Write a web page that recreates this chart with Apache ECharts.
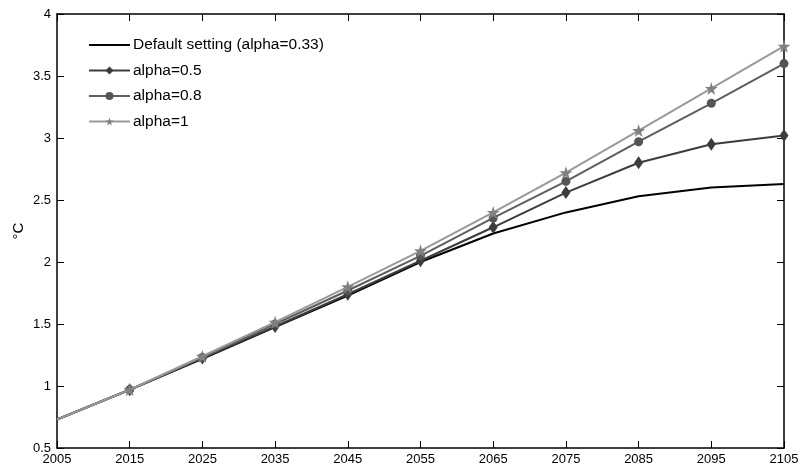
<!DOCTYPE html>
<html>
<head>
<meta charset="utf-8">
<script src="https://cdn.jsdelivr.net/npm/echarts@6/dist/echarts.min.js"></script>
<style>
  html, body { margin: 0; padding: 0; background: #fff; }
  #chart { width: 799px; height: 468px; }
</style>
</head>
<body>
<div id="chart"></div>
<script>
// Projected warming (°C) under different alpha settings
const years = ['2005', '2015', '2025', '2035', '2045', '2055', '2065', '2075', '2085', '2095', '2105'];
const defaultSetting = [0.73, 0.97, 1.22, 1.475, 1.73, 2.00, 2.23, 2.40, 2.53, 2.60, 2.63];
const alpha05 = [0.73, 0.97, 1.225, 1.48, 1.74, 2.01, 2.28, 2.56, 2.80, 2.95, 3.02];
const alpha08 = [0.73, 0.97, 1.23, 1.50, 1.77, 2.05, 2.355, 2.65, 2.97, 3.28, 3.60];
const alpha1 = [0.73, 0.97, 1.24, 1.515, 1.80, 2.09, 2.40, 2.72, 3.06, 3.40, 3.74];
const seriesNames = ['Default setting (alpha=0.33)', 'alpha=0.5', 'alpha=0.8', 'alpha=1'];

const starPath = 'path://M50,0 L61,35 L98,35 L68,57 L79,91 L50,70 L21,91 L32,57 L2,35 L39,35 Z';
const font = '"Liberation Sans", Arial, Helvetica, sans-serif';

// first point sits on the left frame and carries no marker
const withoutFirstMarker = arr => arr.map((v, i) => i === 0 ? { value: v, symbol: 'none' } : v);

const chart = echarts.init(document.getElementById('chart'));
chart.setOption({
  animation: false,
  textStyle: { fontFamily: font },
  grid: { left: 57, right: 15, top: 14, bottom: 20, show: false, containLabel: false, outerBoundsMode: 'none' },
  legend: {
    orient: 'vertical',
    left: 83,
    top: 32,
    itemWidth: 41,
    itemHeight: 10,
    itemGap: 9.5,
    textStyle: { fontFamily: font, fontSize: 15.5, color: '#000', padding: [0, 0, 0, -2] },
    data: [
      { name: seriesNames[0], itemStyle: { opacity: 0 } },
      seriesNames[1],
      seriesNames[2],
      seriesNames[3]
    ]
  },
  xAxis: [{
    type: 'category',
    data: years,
    boundaryGap: false,
    axisLine: { lineStyle: { color: '#000', width: 1.5 } },
    axisTick: { inside: true, length: 7, interval: 0, lineStyle: { color: '#000' } },
    axisLabel: { interval: 0, color: '#000', fontSize: 13, margin: 5, fontFamily: font },
    splitLine: { show: false }
  }, {
    type: 'category',
    data: years,
    position: 'top',
    boundaryGap: false,
    axisLine: { lineStyle: { color: '#000', width: 1.5 } },
    axisTick: { inside: true, length: 7, interval: 0, lineStyle: { color: '#000' } },
    axisLabel: { show: false },
    splitLine: { show: false }
  }],
  yAxis: [{
    type: 'value',
    min: 0.5,
    max: 4,
    interval: 0.5,
    name: '°C',
    nameLocation: 'middle',
    nameGap: 31,
    nameMoveOverlap: false,
    nameRotate: 90,
    nameTextStyle: { color: '#000', fontSize: 15, fontFamily: font },
    axisLine: { show: true, lineStyle: { color: '#000', width: 1.5 } },
    axisTick: { show: true, inside: true, length: 7, lineStyle: { color: '#000' } },
    axisLabel: { color: '#000', fontSize: 13, margin: 6, fontFamily: font },
    splitLine: { show: false }
  }, {
    type: 'value',
    min: 0.5,
    max: 4,
    interval: 0.5,
    position: 'right',
    axisLine: { show: true, lineStyle: { color: '#000', width: 1.5 } },
    axisTick: { show: true, inside: true, length: 7, lineStyle: { color: '#000' } },
    axisLabel: { show: false },
    splitLine: { show: false }
  }],
  series: [{
    name: seriesNames[0],
    type: 'line',
    data: defaultSetting,
    symbol: 'none',
    lineStyle: { color: '#000', width: 2 },
    itemStyle: { color: '#000' },
    z: 2
  }, {
    name: seriesNames[1],
    type: 'line',
    data: withoutFirstMarker(alpha05),
    symbol: 'diamond',
    symbolSize: [9, 13],
    showAllSymbol: true,
    lineStyle: { color: '#3c3c3c', width: 2 },
    itemStyle: { color: '#3c3c3c' },
    z: 3
  }, {
    name: seriesNames[2],
    type: 'line',
    data: withoutFirstMarker(alpha08),
    symbol: 'circle',
    symbolSize: 9,
    showAllSymbol: true,
    lineStyle: { color: '#5e5e5e', width: 2 },
    itemStyle: { color: '#555555' },
    z: 4
  }, {
    name: seriesNames[3],
    type: 'line',
    data: withoutFirstMarker(alpha1),
    symbol: starPath,
    symbolSize: 13,
    showAllSymbol: true,
    lineStyle: { color: '#999999', width: 2 },
    itemStyle: { color: '#808080' },
    z: 5
  }]
});
</script>
</body>
</html>
